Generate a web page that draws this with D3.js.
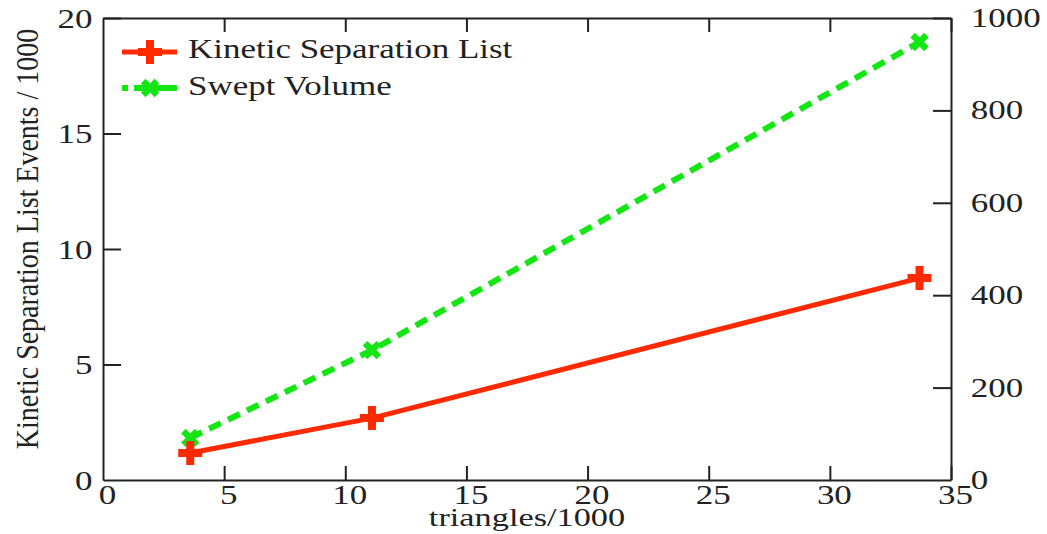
<!DOCTYPE html>
<html>
<head>
<meta charset="utf-8">
<script src="https://cdn.jsdelivr.net/npm/d3@7"></script>
<style>
  body { margin: 0; background: #fff; }
  svg { display: block; }
  text { font-family: "Liberation Serif", "DejaVu Serif", serif; fill: #222; }
  .domain, .tick line { stroke: #222; stroke-width: 2; }
</style>
</head>
<body>
<script>
// data
const triangles = [3.6, 11.1, 33.7];
const kslEvents = [1.17, 2.68, 8.74];
const sweptVolume = [91, 281, 948];

const seriesNames = ['Kinetic Separation List', 'Swept Volume'];
const xTicks = [0, 5, 10, 15, 20, 25, 30, 35];
const leftTicks = [0, 5, 10, 15, 20];
const rightTicks = [0, 200, 400, 600, 800, 1000];

const width = 1047;
const height = 534;
const plotLeft = 103, plotRight = 951, plotTop = 18, plotBottom = 480;
const stretch = 'scale(1.32,1)';

const RED = '#ff2a00';
const GREEN = '#14e614';

const svg = d3.select('body')
  .append('svg')
    .attr('width', width)
    .attr('height', height);

const xScale = d3.scaleLinear().domain([0, 35]).range([plotLeft, plotRight]);
const yLeft = d3.scaleLinear().domain([0, 20]).range([plotBottom, plotTop]);
const yRight = d3.scaleLinear().domain([0, 1000]).range([plotBottom, plotTop]);

/*
 * Axes: ticks point inward, labels outside.
 */

const bottomAxis = svg.append('g')
    .attr('transform', `translate(0, ${plotBottom})`)
    .call(d3.axisBottom(xScale).tickValues(xTicks).tickFormat(d3.format('d'))
      .tickSizeInner(-14).tickSizeOuter(0).tickPadding(5));
bottomAxis.selectAll('text')
    .attr('font-size', 26.5)
    .attr('transform', `translate(4,0) ${stretch}`);

svg.append('g')
    .attr('transform', `translate(0, ${plotTop})`)
    .call(d3.axisTop(xScale).tickValues(xTicks)
      .tickSizeInner(-14).tickSizeOuter(0).tickFormat(''));

const leftAxis = svg.append('g')
    .attr('transform', `translate(${plotLeft}, 0)`)
    .call(d3.axisLeft(yLeft).tickValues(leftTicks).tickFormat(d3.format('d'))
      .tickSizeInner(-18).tickSizeOuter(0).tickPadding(8));
leftAxis.selectAll('text')
    .attr('font-size', 26.5)
    .attr('transform', `translate(0,1) ${stretch}`);

const rightAxis = svg.append('g')
    .attr('transform', `translate(${plotRight}, 0)`)
    .call(d3.axisRight(yRight).tickValues(rightTicks).tickFormat(d3.format('d'))
      .tickSizeInner(-18).tickSizeOuter(0).tickPadding(15));
rightAxis.selectAll('text')
    .attr('font-size', 26.5)
    .attr('transform', stretch);

// hide the corner ticks that sit on the frame
svg.selectAll('.tick line')
    .filter(function() { return this.parentNode.__data__ === 0; })
    .remove();

/*
 * Axis titles.
 */

svg.append('text')
    .attr('transform', `translate(527, 526) ${stretch}`)
    .attr('text-anchor', 'middle')
    .attr('font-size', 26)
    .text('triangles/1000');

svg.append('text')
    .attr('transform', 'translate(38, 239) scale(1.15,1) rotate(-90)')
    .attr('text-anchor', 'middle')
    .attr('font-size', 28)
    .text('Kinetic Separation List Events / 1000');

/*
 * Series lines and markers.
 */

const redPts = triangles.map((t, i) => [xScale(t), yLeft(kslEvents[i])]);
const greenPts = triangles.map((t, i) => [xScale(t), yRight(sweptVolume[i])]);

const plus = d3.symbol().type(d3.symbolCross).size(320);
const cross = d3.symbol().type(d3.symbolCross).size(210);

svg.append('path')
    .attr('d', d3.line()(greenPts))
    .attr('fill', 'none')
    .attr('stroke', GREEN)
    .attr('stroke-width', 6)
    .attr('stroke-dasharray', '13,8');

svg.append('path')
    .attr('d', d3.line()(redPts))
    .attr('fill', 'none')
    .attr('stroke', RED)
    .attr('stroke-width', 5);

svg.selectAll('.green-mark')
  .data(greenPts)
  .enter()
  .append('path')
    .attr('class', 'green-mark')
    .attr('d', cross())
    .attr('transform', d => `translate(${d[0]},${d[1]}) rotate(45)`)
    .attr('fill', GREEN);

svg.selectAll('.red-mark')
  .data(redPts)
  .enter()
  .append('path')
    .attr('class', 'red-mark')
    .attr('d', plus())
    .attr('transform', d => `translate(${d[0]},${d[1]})`)
    .attr('fill', RED);

/*
 * Legend.
 */

const legend = svg.append('g');

legend.append('line')
    .attr('x1', 122).attr('x2', 177).attr('y1', 52).attr('y2', 52)
    .attr('stroke', RED).attr('stroke-width', 5);
legend.append('path')
    .attr('d', plus())
    .attr('transform', 'translate(150,52)')
    .attr('fill', RED);

legend.append('line')
    .attr('x1', 122).attr('x2', 177).attr('y1', 88).attr('y2', 88)
    .attr('stroke', GREEN).attr('stroke-width', 6)
    .attr('stroke-dasharray', '6,6,43');
legend.append('path')
    .attr('d', cross())
    .attr('transform', 'translate(150,88) rotate(45)')
    .attr('fill', GREEN);

legend.selectAll('.legend-label')
  .data(seriesNames)
  .enter()
  .append('text')
    .attr('class', 'legend-label')
    .attr('transform', (d, i) => `translate(188, ${58 + i * 37}) ${stretch}`)
    .attr('font-size', 26.5)
    .text(d => d);
</script>
</body>
</html>
